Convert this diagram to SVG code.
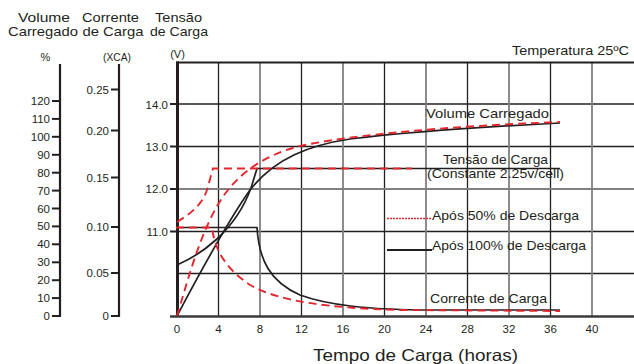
<svg xmlns="http://www.w3.org/2000/svg" width="634" height="364" viewBox="0 0 634 364">
<style>
text{font-family:"Liberation Sans",Arial,sans-serif;fill:#231f20}
.hd{font-size:13.5px}
.un{font-size:11px}
.tk{font-size:11.5px}
.lb{font-size:13px}
.g1{stroke:#231f20;stroke-width:1.3;fill:none}
.g2{stroke:#808080;stroke-width:1.8;fill:none}
.ax{stroke:#231f20;stroke-width:2.2;fill:none}
.tick{stroke:#231f20;stroke-width:2}
.blk{stroke:#231f20;stroke-width:1.7;fill:none}
.red{stroke:#e3262d;stroke-width:1.9;fill:none;stroke-dasharray:8 5}
</style>
<rect width="634" height="364" fill="#fff"/>

<g id="headers">
<text class="hd" x="44" y="22" text-anchor="middle" textLength="52" lengthAdjust="spacingAndGlyphs">Volume</text>
<text class="hd" x="43" y="36" text-anchor="middle" textLength="70" lengthAdjust="spacingAndGlyphs">Carregado</text>
<text class="hd" x="110.5" y="22" text-anchor="middle" textLength="57" lengthAdjust="spacingAndGlyphs">Corrente</text>
<text class="hd" x="113" y="36" text-anchor="middle" textLength="61" lengthAdjust="spacingAndGlyphs">de Carga</text>
<text class="hd" x="178.5" y="22" text-anchor="middle" textLength="47" lengthAdjust="spacingAndGlyphs">Tensão</text>
<text class="hd" x="179" y="36" text-anchor="middle" textLength="58" lengthAdjust="spacingAndGlyphs">de Carga</text>
<text class="un" x="45.5" y="61" text-anchor="middle">%</text>
<text class="un" x="117" y="61" text-anchor="middle" textLength="28" lengthAdjust="spacingAndGlyphs">(XCA)</text>
<text class="un" x="177.5" y="58" text-anchor="middle">(V)</text>
<text class="lb" x="629" y="55" text-anchor="end" textLength="117" lengthAdjust="spacingAndGlyphs">Temperatura 25ºC</text>
</g>

<g id="axis-volume">
<line class="ax" x1="60" y1="64" x2="60" y2="317"/>
<g class="tick">
<line x1="52" y1="101" x2="60" y2="101"/><line x1="52" y1="118.9" x2="60" y2="118.9"/><line x1="52" y1="136.8" x2="60" y2="136.8"/><line x1="52" y1="154.8" x2="60" y2="154.8"/><line x1="52" y1="172.7" x2="60" y2="172.7"/><line x1="52" y1="190.6" x2="60" y2="190.6"/><line x1="52" y1="208.5" x2="60" y2="208.5"/><line x1="52" y1="226.4" x2="60" y2="226.4"/><line x1="52" y1="244.3" x2="60" y2="244.3"/><line x1="52" y1="262.3" x2="60" y2="262.3"/><line x1="52" y1="280.2" x2="60" y2="280.2"/><line x1="52" y1="298.1" x2="60" y2="298.1"/><line x1="52" y1="316" x2="60" y2="316"/>
</g>
<g class="tk" text-anchor="end">
<text x="50" y="105">120</text><text x="50" y="122.9">110</text><text x="50" y="140.8">100</text><text x="50" y="158.8">90</text><text x="50" y="176.7">80</text><text x="50" y="194.6">70</text><text x="50" y="212.5">60</text><text x="50" y="230.4">50</text><text x="50" y="248.3">40</text><text x="50" y="266.3">30</text><text x="50" y="284.2">20</text><text x="50" y="302.1">10</text><text x="50" y="320">0</text>
</g>
</g>

<g id="axis-current">
<line class="ax" x1="119" y1="64" x2="119" y2="317"/>
<g class="tick">
<line x1="111" y1="89.5" x2="119" y2="89.5"/><line x1="111" y1="130.5" x2="119" y2="130.5"/><line x1="111" y1="177.5" x2="119" y2="177.5"/><line x1="111" y1="227" x2="119" y2="227"/><line x1="111" y1="273" x2="119" y2="273"/><line x1="111" y1="316" x2="119" y2="316"/>
</g>
<g class="tk" text-anchor="end">
<text x="109" y="93.5">0.25</text><text x="109" y="134.5">0.20</text><text x="109" y="181.5">0.15</text><text x="109" y="231">0.10</text><text x="109" y="277">0.05</text><text x="109" y="320">0</text>
</g>
</g>

<g id="plot-grid">
<g class="g1">
<line x1="177" y1="104" x2="634" y2="104"/>
<line x1="177" y1="146.5" x2="634" y2="146.5"/>
<line x1="177" y1="231.5" x2="634" y2="231.5"/>
<line x1="177" y1="273.5" x2="634" y2="273.5"/>
<line x1="218.5" y1="62" x2="218.5" y2="316"/>
<line x1="301.5" y1="62" x2="301.5" y2="316"/>
<line x1="384.5" y1="62" x2="384.5" y2="316"/>
<line x1="467.5" y1="62" x2="467.5" y2="316"/>
<line x1="550.5" y1="62" x2="550.5" y2="316"/>
</g>
<g class="g2">
<line x1="177" y1="189" x2="634" y2="189"/>
<line x1="260" y1="62" x2="260" y2="316"/>
<line x1="343" y1="62" x2="343" y2="316"/>
<line x1="426" y1="62" x2="426" y2="316"/>
<line x1="509" y1="62" x2="509" y2="316"/>
<line x1="592" y1="62" x2="592" y2="316"/>
</g>
<line x1="176" y1="62.5" x2="634" y2="62.5" stroke="#231f20" stroke-width="2"/>
<line x1="177.5" y1="61.5" x2="177.5" y2="317" stroke="#231f20" stroke-width="3"/>
<line x1="170" y1="316.5" x2="634" y2="316.5" stroke="#3a3a3a" stroke-width="2.4"/>
<g class="tick">
<line x1="170" y1="104" x2="177" y2="104"/><line x1="170" y1="146.5" x2="177" y2="146.5"/><line x1="170" y1="189" x2="177" y2="189"/><line x1="170" y1="231.5" x2="177" y2="231.5"/>
</g>
<g class="tk" text-anchor="end">
<text x="168" y="108.5">14.0</text><text x="168" y="151">13.0</text><text x="168" y="193">12.0</text><text x="168" y="236">11.0</text>
</g>
<g class="tk" text-anchor="middle">
<text x="177" y="333">0</text><text x="218.5" y="333">4</text><text x="260" y="333">8</text><text x="301.5" y="333">12</text><text x="343" y="333">16</text><text x="384.5" y="333">20</text><text x="426" y="333">24</text><text x="467.5" y="333">28</text><text x="509" y="333">32</text><text x="550.5" y="333">36</text><text x="592" y="333">40</text>
</g>
<text x="415.5" y="361" text-anchor="middle" font-size="16.5" textLength="205" lengthAdjust="spacingAndGlyphs">Tempo de Carga (horas)</text>
</g>

<g id="connectors">
<path id="vol-100" class="blk" d="M177,316 C195,282 225,225 250,190 C275,158 310,145 350,139 C400,133 480,127 560,123"/>
<path id="volt-100" class="blk" d="M177,265 C200,255 235,232 251,188 L257,168.5 L560,168.5"/>
<path id="cur-100" class="blk" d="M177,227.5 L257,227.5 C259,260 270,282 300,295 C330,306 370,309 420,310 L560,310"/>
<path id="vol-50" class="red" d="M177,316 C188,280 200,232 222,198 C240,172 265,155 300,146 C350,135 450,126 560,122"/>
<path id="volt-50" class="red" d="M177,222 C190,214 202,205 207,190 L213,168.5 L412,168.5"/>
<path id="cur-50" class="red" d="M176,227.5 L212,227.5 C215,250 225,268 250,285 C280,302 330,308 400,310 L560,311"/>
</g>

<g id="labels">
<text class="lb" x="426" y="118" textLength="123" lengthAdjust="spacingAndGlyphs">Volume Carregado</text>
<text class="lb" x="443" y="164" textLength="105" lengthAdjust="spacingAndGlyphs">Tensão de Carga</text>
<text class="lb" x="427" y="178" textLength="137" lengthAdjust="spacingAndGlyphs">(Constante 2.25v/cell)</text>
<text class="lb" x="430" y="303" textLength="117" lengthAdjust="spacingAndGlyphs">Corrente de Carga</text>
</g>

<g id="legend">
<line x1="387" y1="218.5" x2="431" y2="218.5" stroke="#e3262d" stroke-width="1.6" stroke-dasharray="2 1"/>
<text class="lb" x="432" y="220" textLength="147" lengthAdjust="spacingAndGlyphs">Após 50% de Descarga</text>
<line x1="387" y1="250" x2="432" y2="250" stroke="#231f20" stroke-width="2.2"/>
<text class="lb" x="432" y="250" textLength="154" lengthAdjust="spacingAndGlyphs">Após 100% de Descarga</text>
</g>
</svg>
